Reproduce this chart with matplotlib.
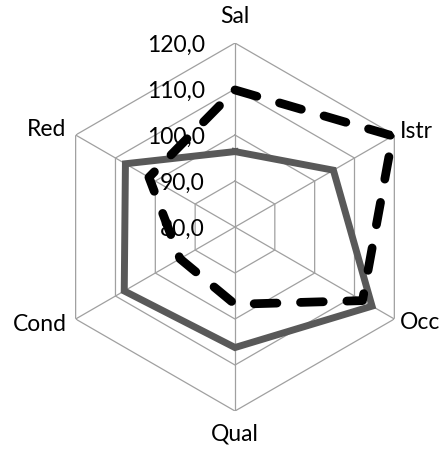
import numpy as np
import matplotlib
matplotlib.use('Agg')
import matplotlib.pyplot as plt
from matplotlib.transforms import offset_copy

# data
categories = ['Sal', 'Istr', 'Occ', 'Qual', 'Cond', 'Red']
serieSolid = [96.4, 104.7, 114.4, 106.2, 107.8, 107.5]
serieDashed = [109.8, 119.6, 112.0, 96.8, 93.8, 101.6]
ticks = [80, 90, 100, 110, 120]
tickLabels = ['80,0', '90,0', '100,0', '110,0', '120,0']

plt.rcParams['font.family'] = ['Lato', 'DejaVu Sans']

fig = plt.figure(figsize=(4.41, 4.49), dpi=100)
ax = fig.add_axes([0.1156, 0.0846, 0.8345, 0.8196], projection='polar')
ax.set_theta_offset(np.pi / 2)
ax.set_theta_direction(-1)
ax.set_ylim(ticks[0], ticks[-1])
ax.grid(False)
ax.spines['polar'].set_visible(False)
ax.set_xticks([])
ax.set_yticks([])
ax.patch.set_alpha(0)

angles = np.linspace(0, 2 * np.pi, len(categories), endpoint=False)
closed = np.append(angles, angles[0])

# hexagon grid
gridColor = '#a0a0a0'
for t in ticks[1:]:
    ax.plot(closed, [t] * len(closed), color=gridColor, lw=0.9, zorder=1)
for a in angles:
    ax.plot([a, a], [ticks[0], ticks[-1]], color=gridColor, lw=0.9, zorder=1)

# series
ax.plot(closed, serieSolid + serieSolid[:1], color='#595959', lw=5.0,
        solid_joinstyle='miter', zorder=3)
ax.plot(closed, serieDashed + serieDashed[:1], color='black', lw=6.3,
        linestyle=(0, (2.6, 2.7)), dash_capstyle='round',
        dash_joinstyle='round', zorder=4)

# radial tick labels, left of the top axis
tickTrans = offset_copy(ax.transData, fig=fig, x=-30, y=-2, units='dots')
for t, lab in zip(ticks, tickLabels):
    ax.text(0, t, lab, transform=tickTrans, ha='right', va='center',
            fontsize=16.5, color='black', zorder=5)

# category labels
labelPos = {'Sal': (125.7, 'center'), 'Istr': (121.4, 'left'), 'Occ': (121.4, 'left'),
            'Qual': (125.0, 'center'), 'Cond': (122.3, 'right'), 'Red': (122.3, 'right')}
for a, cat in zip(angles, categories):
    r, ha = labelPos[cat]
    ax.text(a, r, cat, ha=ha, va='center', fontsize=16.5, color='black')

fig.savefig('out.png', dpi=100)
